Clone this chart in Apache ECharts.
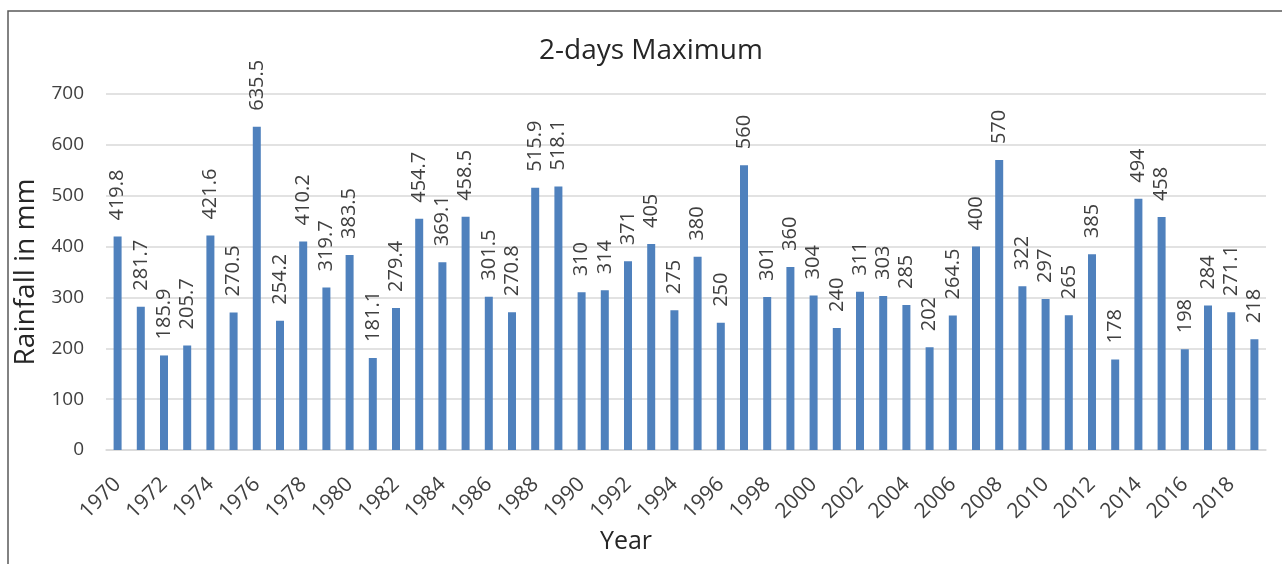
<!DOCTYPE html>
<html>
<head>
<meta charset="utf-8">
<script src="https://cdn.jsdelivr.net/npm/echarts@6/dist/echarts.min.js"></script>
<style>
  html, body { margin: 0; padding: 0; background: #fff; }
  #chart { width: 1282px; height: 564px; }
</style>
</head>
<body>
<div id="chart"></div>
<script>
// Annual 2-day maximum rainfall, 1970-2019
const years = [
  '1970','1971','1972','1973','1974','1975','1976','1977','1978','1979',
  '1980','1981','1982','1983','1984','1985','1986','1987','1988','1989',
  '1990','1991','1992','1993','1994','1995','1996','1997','1998','1999',
  '2000','2001','2002','2003','2004','2005','2006','2007','2008','2009',
  '2010','2011','2012','2013','2014','2015','2016','2017','2018','2019'
];
const rainfall = [
  419.8, 281.7, 185.9, 205.7, 421.6, 270.5, 635.5, 254.2, 410.2, 319.7,
  383.5, 181.1, 279.4, 454.7, 369.1, 458.5, 301.5, 270.8, 515.9, 518.1,
  310, 314, 371, 405, 275, 380, 250, 560, 301, 360,
  304, 240, 311, 303, 285, 202, 264.5, 400, 570, 322,
  297, 265, 385, 178, 494, 458, 198, 284, 271.1, 218
];
const yTicks = { min: 0, max: 700, step: 100 };

const FONT = '"Open Sans", "Liberation Sans", sans-serif';

const chart = echarts.init(document.getElementById('chart'), null, { renderer: 'canvas' });
chart.setOption({
  backgroundColor: '#ffffff',
  animation: false,
  title: {
    text: '2-days Maximum',
    left: 534,
    top: 32,
    textStyle: { fontFamily: FONT, fontSize: 28, fontWeight: 'normal', color: '#262626' }
  },
  graphic: [{
    type: 'rect',
    shape: { x: 8, y: 11, width: 1320, height: 620 },
    style: { fill: 'none', stroke: '#595959', lineWidth: 1.5 },
    silent: true
  }],
  grid: { left: 106, right: 16, top: 94, bottom: 114 },
  xAxis: {
    type: 'category',
    data: years,
    name: 'Year',
    nameLocation: 'middle',
    nameGap: 79,
    nameTextStyle: { fontFamily: FONT, fontSize: 25, color: '#262626', padding: [0, 120, 0, 0] },
    axisLine: { lineStyle: { color: '#d9d9d9', width: 1.5 } },
    axisTick: { show: false },
    axisLabel: {
      interval: 1,
      rotate: 45,
      margin: 31,
      fontFamily: FONT,
      fontSize: 21,
      color: '#404040'
    }
  },
  yAxis: {
    type: 'value',
    min: yTicks.min,
    max: yTicks.max,
    interval: yTicks.step,
    name: 'Rainfall in mm',
    nameLocation: 'middle',
    nameGap: 56,
    nameTextStyle: { fontFamily: FONT, fontSize: 28, color: '#262626' },
    axisLine: { show: false },
    axisTick: { show: false },
    splitLine: { lineStyle: { color: '#d9d9d9', width: 1.5 } },
    axisLabel: { margin: 22, fontFamily: FONT, fontSize: 19, color: '#404040' }
  },
  series: [{
    type: 'bar',
    data: rainfall,
    barWidth: 8,
    itemStyle: { color: '#4f81bd' },
    label: {
      show: true,
      position: 'top',
      rotate: 90,
      align: 'left',
      verticalAlign: 'middle',
      distance: 16,
      fontFamily: FONT,
      fontSize: 20,
      color: '#404040'
    }
  }]
});
</script>
</body>
</html>
